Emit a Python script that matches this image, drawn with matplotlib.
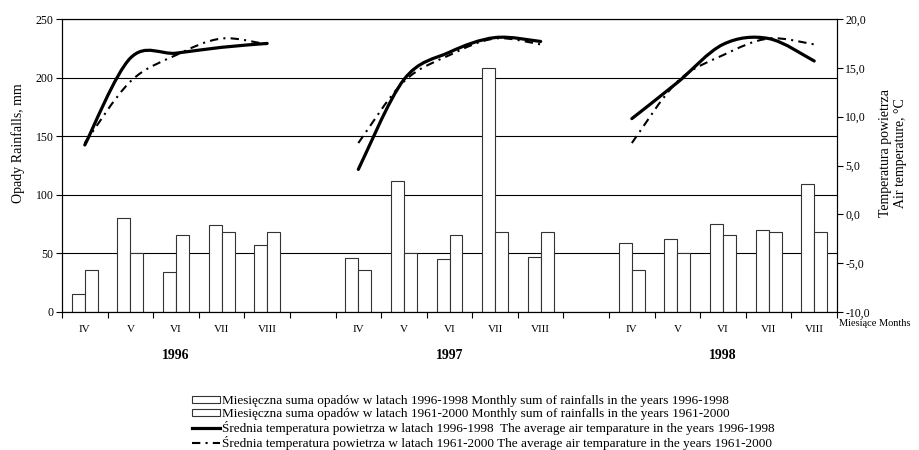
import matplotlib.pyplot as plt
from matplotlib.path import Path
from matplotlib.patches import PathPatch
from matplotlib.lines import Line2D
from matplotlib.ticker import FuncFormatter

plt.rcParams['font.family'] = ['Liberation Serif', 'DejaVu Serif']

# data
months = ['IV', 'V', 'VI', 'VII', 'VIII']
years = ['1996', '1997', '1998']

rain_1996 = [15, 80, 34, 74, 57]
rain_1997 = [46, 112, 45, 208, 47]
rain_1998 = [59, 62, 75, 70, 109]
rain_norm = [36, 50, 66, 68, 68]  # 1961-2000

temp_1996 = [7.1, 16.0, 16.5, 17.1, 17.5]
temp_1997 = [4.6, 13.8, 16.6, 18.1, 17.7]
temp_1998 = [9.8, 13.5, 17.4, 18.0, 15.7]
temp_norm = [7.3, 13.6, 16.3, 18.0, 17.4]  # 1961-2000

rain = [rain_1996, rain_1997, rain_1998]
temps = [temp_1996, temp_1997, temp_1998]


def smooth_path(xs, ys):
    # excel-like smoothed line: bezier segments through the points
    pts = list(zip(xs, ys))
    n = len(pts)
    verts = [pts[0]]
    codes = [Path.MOVETO]
    for i in range(n - 1):
        p0 = pts[i - 1] if i > 0 else pts[i]
        p1 = pts[i]
        p2 = pts[i + 1]
        p3 = pts[i + 2] if i + 2 < n else pts[i + 1]
        c1 = (p1[0] + (p2[0] - p0[0]) / 6, p1[1] + (p2[1] - p0[1]) / 6)
        c2 = (p2[0] - (p3[0] - p1[0]) / 6, p2[1] - (p3[1] - p1[1]) / 6)
        verts += [c1, c2, p2]
        codes += [Path.CURVE4] * 3
    return Path(verts, codes)


fig = plt.figure(figsize=(9.19, 4.5), dpi=100)
ax = fig.add_axes([62 / 919, 1 - 312 / 450, 775 / 919, 293 / 450])

w = 0.285
dash_style = (4, 2.5, 1, 2.5)

for k in range(3):
    pos = [k * 6 + i for i in range(5)]
    b1 = ax.bar([p - w / 2 for p in pos], rain[k], width=w, color='white',
                edgecolor='#333333', linewidth=0.8, zorder=2)
    b2 = ax.bar([p + w / 2 for p in pos], rain_norm, width=w, color='white',
                edgecolor='#333333', linewidth=0.8, zorder=2)

ax.set_xlim(-0.5, 16.5)
ax.set_ylim(0, 250)
ax.set_yticks(range(0, 251, 50))
ax.yaxis.grid(True, color='black', linewidth=0.8)
ax.set_axisbelow(True)
ax.set_xticks([x - 0.5 for x in range(18)])
ax.set_xticklabels([])
ax.tick_params(axis='x', direction='out', length=4, width=0.8)
ax.tick_params(axis='y', direction='out', length=4, width=0.8, labelsize=8.5, pad=2)
for s in ax.spines.values():
    s.set_linewidth(0.8)

ax2 = ax.twinx()
ax2.set_ylim(-10, 20)
ax2.set_yticks(range(-10, 21, 5))
ax2.yaxis.set_major_formatter(FuncFormatter(lambda v, p: f'{v:.1f}'.replace('.', ',')))
ax2.tick_params(axis='y', direction='out', length=4, width=0.8, labelsize=8.5, pad=2)

for k in range(3):
    pos = [k * 6 + i for i in range(5)]
    ax2.add_patch(PathPatch(smooth_path(pos, temp_norm), fill=False, edgecolor='black',
                            linewidth=1.5, linestyle=(0, dash_style), zorder=3))
    ax2.add_patch(PathPatch(smooth_path(pos, temps[k]), fill=False, edgecolor='black',
                            linewidth=2.3, capstyle='round', zorder=4))

# month and year labels under the axis
for k in range(3):
    for i, m in enumerate(months):
        ax.text(k * 6 + i, -0.06, m, transform=ax.get_xaxis_transform(),
                ha='center', va='center', fontsize=8)
    ax.text(k * 6 + 2, -0.15, years[k], transform=ax.get_xaxis_transform(),
            ha='center', va='center', fontsize=10, fontweight='bold')

fig.text(839 / 919, 1 - 323 / 450, 'Miesiące Months', fontsize=7.5, ha='left', va='center')
fig.text(18 / 919, 1 - 143 / 450, 'Opady Rainfalls, mm', rotation=90,
         ha='center', va='center', fontsize=10)
fig.text(893 / 919, 1 - 153 / 450, 'Temperatura powietrza\nAir temperature, °C', rotation=90,
         ha='center', va='center', fontsize=10, multialignment='center', linespacing=1.25)

handles = [b1, b2,
           Line2D([], [], color='black', linewidth=2.3),
           Line2D([], [], color='black', linewidth=1.5, linestyle=(0, dash_style))]
labels = ['Miesięczna suma opadów w latach 1996-1998 Monthly sum of rainfalls in the years 1996-1998',
          'Miesięczna suma opadów w latach 1961-2000 Monthly sum of rainfalls in the years 1961-2000',
          'Średnia temperatura powietrza w latach 1996-1998  The average air temparature in the years 1996-1998',
          'Średnia temperatura powietrza w latach 1961-2000 The average air temparature in the years 1961-2000']
fig.legend(handles, labels, loc='upper left', bbox_to_anchor=(192 / 919, 1 - 395 / 450),
           frameon=False, fontsize=9.5, handlelength=2.1, handleheight=0.45,
           handletextpad=0.2, labelspacing=0.08, borderaxespad=0, borderpad=0)

fig.savefig('out.png', dpi=100)
